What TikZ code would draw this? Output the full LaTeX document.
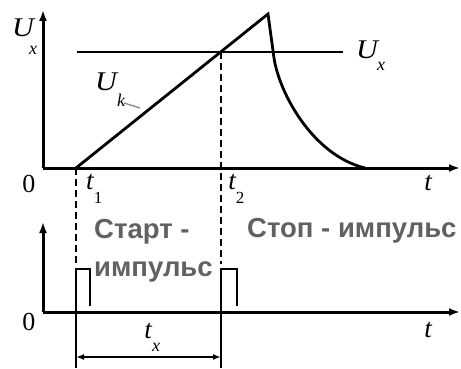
\documentclass[tikz,border=0pt]{standalone}
\usepackage{fontspec}
\setmainfont{Liberation Serif}
\newfontfamily\cyrfont{Liberation Sans}
\usetikzlibrary{arrows.meta}
\newcommand{\wide}[1]{\scalebox{1.12}[1]{#1}}
\tikzset{
  axis/.style={line width=3pt, -{Latex[length=11pt,width=8pt]}},
  curve/.style={line width=2.8pt},
  guide/.style={line width=2.4pt, dash pattern=on 7pt off 4pt},
  pulse/.style={line width=2.4pt},
  dim/.style={line width=2.4pt, {Latex[length=8pt,width=6pt]}-{Latex[length=8pt,width=6pt]}},
  lbl/.style={inner sep=0pt, font=\fontsize{27}{29}\selectfont\itshape},
  sub/.style={inner sep=0pt, font=\fontsize{18}{20}\selectfont\itshape},
  subn/.style={inner sep=0pt, font=\fontsize{17}{19}\selectfont},
  zero/.style={inner sep=0pt, font=\fontsize{26}{28}\selectfont},
  cyr/.style={inner sep=0pt, anchor=west, text=black!62, font=\fontsize{27.5}{30}\selectfont\cyrfont\bfseries}
}
\begin{document}
\begin{tikzpicture}[x=1pt,y=-1pt]
\useasboundingbox (0,0) rectangle (461,369);
% coordinates
\coordinate (O1) at (43,168);
\coordinate (Y1) at (43,10);
\coordinate (X1) at (460,168);
\coordinate (O2) at (43,312);
\coordinate (Y2) at (43,222);
\coordinate (X2) at (460,312);
\coordinate (T1) at (76,168);
\coordinate (T2) at (221,52);
\coordinate (P) at (268,14);
\coordinate (K) at (274,58);
\coordinate (E) at (365,168);
\coordinate (UxL) at (77,52);
\coordinate (UxR) at (343,52);
% axes
\draw[axis] (O1) -- (Y1);
\draw[axis] (O1) -- (X1);
\draw[axis] (O2) -- (Y2);
\draw[axis] (O2) -- (X2);
% threshold
\draw[line width=2.8pt] (UxL) -- (UxR);
% ramp and decay
\draw[curve, line join=miter] (T1) -- (P) -- (K) .. controls (279,92) and (312,155) .. (E);
% leader for Uk
\coordinate (LA) at (124,103);
\coordinate (LB) at (140,108);
\draw[black!45, line width=1.4pt] (LA) -- (LB);
% dashed guides
\coordinate (D1) at (76,264);
\coordinate (D2) at (221,264);
\draw[guide] (T1) -- (D1);
\draw[guide] (T2) -- (D2);
% start pulse
\coordinate (S1) at (76,269);
\coordinate (S2) at (90,269);
\coordinate (S3) at (90,306);
\coordinate (SB) at (76,368);
\draw[pulse] (SB) -- (S1) -- (S2) -- (S3);
% stop pulse
\coordinate (Q1) at (221,269);
\coordinate (Q2) at (237,269);
\coordinate (Q3) at (237,306);
\coordinate (QB) at (221,368);
\draw[pulse] (QB) -- (Q1) -- (Q2) -- (Q3);
% dimension
\coordinate (M1) at (76,357);
\coordinate (M2) at (221,357);
\draw[dim] (M1) -- (M2);
% labels
\node[lbl] (uxl) at (23,28) {\wide{U}};
\node[sub] (uxls) at (33,50) {x};
\node[lbl] (uxr) at (367,50) {\wide{U}};
\node[sub] (uxrs) at (381,66) {x};
\node[lbl] (uk) at (106,82) {\wide{U}};
\node[sub] (uks) at (121,100) {k};
\node[zero] (z1) at (29,184) {0};
\node[zero] (z2) at (29,322) {0};
\node[lbl] (t1) at (90,182) {t};
\node[subn] (t1s) at (98,198) {1};
\node[lbl] (t2) at (232,182) {t};
\node[subn] (t2s) at (240,198) {2};
\node[lbl] (tt) at (428,183) {t};
\node[lbl] (tb) at (428,330) {t};
\node[lbl] (tx) at (148,331) {t};
\node[sub] (txs) at (156,347) {x};
\node[cyr] (st1) at (94,232) {Старт -};
\node[cyr] (st2) at (94,272) {импульс};
\node[cyr] (sp) at (247,231) {Стоп - импульс};
\end{tikzpicture}
\end{document}
